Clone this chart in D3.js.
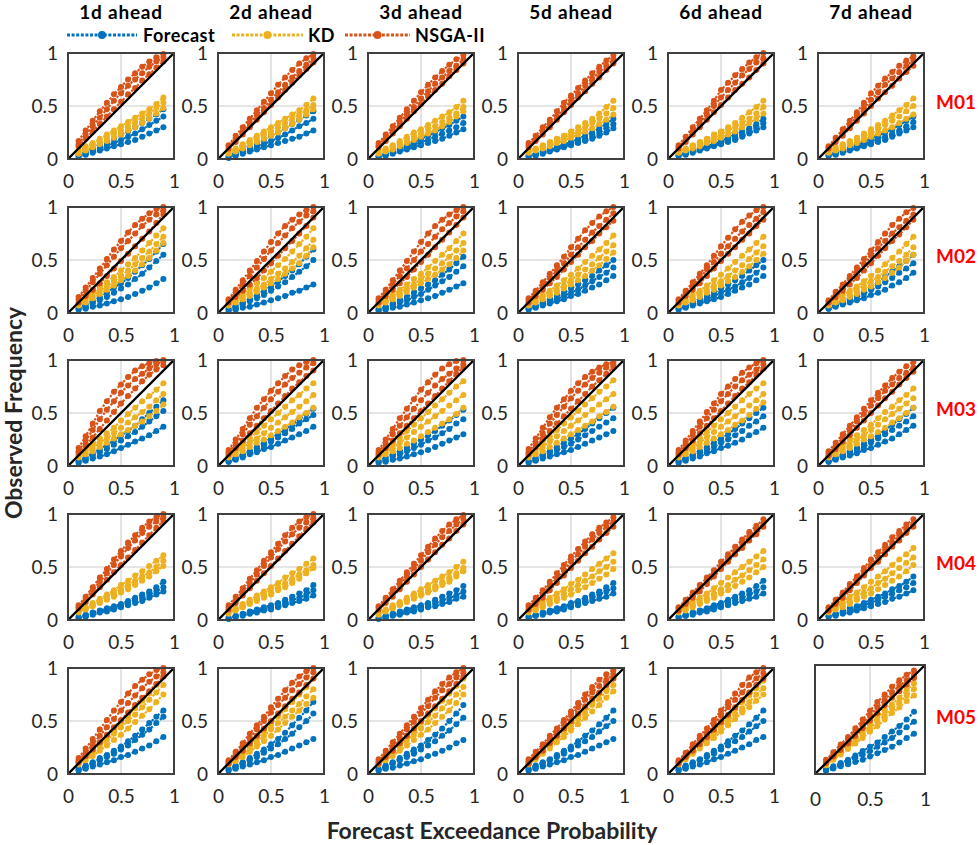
<!DOCTYPE html>
<html>
<head>
<meta charset="utf-8">
<script src="https://cdn.jsdelivr.net/npm/d3@7"></script>
<style>
  body { margin: 0; background: #fff; }
  text { font-family: Lato, 'Open Sans', sans-serif; }
</style>
</head>
<body>
<svg id="chart" width="978" height="845"></svg>
<script>
// lead times (columns) and models (rows)
const leadTimes = ['1d ahead', '2d ahead', '3d ahead', '5d ahead', '6d ahead', '7d ahead'];
const models = ['M01', 'M02', 'M03', 'M04', 'M05'];
const seriesNames = ['Forecast', 'KD', 'NSGA-II'];
const tickValues = [0, 0.5, 1];

// forecast exceedance probability of each point
const probs = [0.1, 0.1667, 0.2333, 0.3, 0.3667, 0.4333, 0.5, 0.5667, 0.6333, 0.7, 0.7667, 0.8333, 0.9];

// observed frequency (%), per lead time: three curves each
const M01_forecast = [
  [[4,7,10,13,16,19,23,26,30,34,38,42,47],[3,5,8,10,13,15,18,21,24,28,32,36,40],[2,4,6,8,10,12,14,16,18,21,24,27,30]],
  [[3,6,9,12,15,18,22,25,29,33,37,41,45],[2,4,7,9,12,14,17,20,23,27,31,34,38],[1,3,5,7,9,11,13,15,17,19,21,24,27]],
  [[3,5,8,10,13,16,19,22,25,29,32,36,40],[2,4,6,9,11,13,16,18,21,24,27,30,34],[2,3,5,7,9,11,13,15,17,19,22,25,28]],
  [[3,5,7,9,11,14,16,19,22,25,29,33,38],[3,4,6,8,10,12,14,16,19,22,25,29,33],[2,3,5,7,9,11,13,15,17,19,22,25,29]],
  [[4,6,8,10,12,14,17,20,23,26,29,33,38],[3,5,7,9,11,13,15,18,20,23,26,30,34],[3,4,6,8,10,12,14,16,18,21,24,27,30]],
  [[4,6,8,11,13,16,19,22,25,28,32,36,40],[3,5,7,9,11,14,16,19,21,24,27,31,35],[3,4,6,8,10,12,14,16,18,21,24,27,30]]
];
const M01_kd = [
  [[8,12,15,19,23,27,31,35,39,43,47,52,58],[7,10,13,16,20,24,27,31,35,39,43,48,53],[5,8,11,14,17,20,23,27,30,34,38,43,48]],
  [[7,10,14,18,22,26,30,34,38,42,46,51,57],[6,9,12,16,19,23,26,30,34,38,42,46,51],[5,7,10,13,16,19,22,25,29,33,37,42,47]],
  [[7,10,13,17,21,25,28,32,36,40,44,49,55],[6,8,11,14,18,21,24,28,31,35,39,43,49],[5,7,9,12,15,18,21,24,27,31,35,40,45]],
  [[8,10,13,16,19,22,26,30,34,38,43,49,55],[7,9,12,14,17,20,23,26,30,34,38,43,48],[6,8,10,12,15,17,20,23,26,29,33,37,42]],
  [[8,10,13,16,19,23,26,30,34,39,44,49,55],[7,9,12,14,17,20,23,27,30,34,38,43,49],[6,8,10,12,15,17,20,23,26,30,34,38,43]],
  [[8,11,14,17,20,24,28,32,36,41,46,51,57],[7,9,12,15,18,21,24,28,32,36,40,45,50],[6,8,10,13,15,18,21,24,27,30,34,38,42]]
];
const M01_nsga = [
  [[17,27,36,45,53,61,68,75,81,87,92,96,99],[14,23,31,39,47,55,62,69,75,81,87,92,96],[12,19,26,33,40,47,54,61,67,74,80,86,92]],
  [[13,22,30,38,46,54,62,70,77,84,90,95,99],[12,19,26,34,41,48,56,63,70,77,83,89,95],[10,16,23,30,37,44,51,58,65,72,79,85,91]],
  [[15,23,31,39,47,55,63,70,77,83,89,94,98],[13,20,27,35,42,49,57,64,71,77,83,88,94],[11,17,24,31,38,45,52,59,65,71,78,84,90]],
  [[15,22,30,37,45,53,60,67,74,81,87,93,98],[13,19,26,33,40,48,55,62,69,76,82,88,94],[11,17,23,30,37,44,51,58,64,71,77,84,90]],
  [[13,21,30,38,46,55,65,72,79,85,91,96,100],[11,18,26,34,42,50,58,65,72,79,85,91,95],[10,16,23,30,37,44,51,58,65,71,77,84,90]],
  [[12,20,28,36,44,53,62,69,76,82,88,93,97],[11,18,25,32,40,48,56,63,70,76,82,88,93],[10,16,22,29,36,43,50,57,63,69,76,82,88]]
];

const M02_forecast = [
  [[5,8,11,15,19,24,28,33,39,45,51,58,65],[4,6,9,12,15,19,23,27,32,37,43,49,55],[3,4,6,7,9,11,13,15,18,21,24,28,32]],
  [[4,7,10,13,17,21,25,30,35,40,46,53,60],[3,5,8,11,14,17,21,25,29,34,39,44,50],[2,3,5,6,8,10,12,14,16,19,21,24,27]],
  [[4,6,9,12,15,19,23,27,31,36,41,47,53],[3,5,7,10,12,15,18,22,26,30,34,39,44],[2,3,5,6,8,10,12,14,16,19,22,25,28]],
  [[5,7,10,13,16,19,23,27,31,35,40,45,50],[4,6,8,11,13,16,19,22,26,30,34,38,43],[3,5,7,9,11,13,16,18,21,24,27,31,35]],
  [[5,7,10,13,16,19,23,27,31,35,40,45,50],[4,6,8,11,13,16,19,22,25,29,33,38,43],[3,5,7,9,11,13,15,18,21,24,27,31,35]],
  [[5,8,11,14,17,21,25,29,34,39,44,49,55],[4,7,9,12,15,18,22,25,29,33,38,42,47],[4,6,8,10,12,14,17,19,22,26,29,33,38]]
];
const M02_kd = [
  [[9,14,19,24,29,34,40,46,52,59,66,73,80],[8,12,16,21,25,30,35,40,46,52,58,65,72],[7,10,14,18,22,26,31,35,40,46,52,59,66]],
  [[9,13,18,23,28,33,39,45,51,58,65,72,80],[8,11,15,19,23,27,32,37,42,48,54,61,69],[7,10,13,16,20,24,28,32,37,42,47,54,62]],
  [[9,13,17,22,27,32,37,43,49,55,61,68,75],[8,11,15,19,23,27,32,37,42,47,53,59,66],[7,10,13,16,20,24,28,32,36,41,46,52,59]],
  [[9,13,17,21,26,31,36,42,48,54,60,66,73],[8,11,15,18,22,26,31,36,41,46,52,58,64],[7,10,13,16,19,23,27,31,35,40,45,51,57]],
  [[9,13,17,21,26,31,36,42,48,54,60,66,72],[8,11,14,18,22,26,30,35,40,45,51,57,63],[7,10,12,15,19,22,26,30,34,39,44,50,56]],
  [[9,13,17,21,25,30,35,40,46,52,58,65,72],[8,11,14,18,22,26,30,34,39,44,49,55,62],[7,10,12,15,18,22,25,29,33,38,43,49,55]]
];
const M02_nsga = [
  [[15,24,33,42,51,60,68,76,83,89,94,98,100],[13,21,29,37,45,53,61,68,75,82,88,93,97],[10,16,22,28,35,42,49,56,63,70,77,85,93]],
  [[13,22,31,40,49,58,67,75,82,88,93,97,100],[12,19,27,35,43,51,59,66,73,80,86,92,96],[10,15,21,27,33,40,47,54,61,68,75,82,90]],
  [[14,22,31,40,49,58,67,75,82,88,93,97,100],[12,19,27,35,42,50,58,65,72,79,85,91,96],[10,16,22,28,34,41,48,55,62,69,76,83,90]],
  [[14,21,29,37,45,53,62,70,78,85,91,96,100],[12,19,26,33,40,47,55,62,69,76,82,88,94],[10,16,22,28,34,41,48,55,62,68,75,81,87]],
  [[13,21,29,37,45,54,63,71,79,86,92,97,100],[12,19,26,33,41,48,56,63,70,77,83,89,95],[10,16,22,28,35,42,49,56,62,69,75,82,88]],
  [[12,20,27,35,43,51,59,67,75,83,89,95,99],[11,18,25,32,39,46,54,61,68,75,81,87,93],[10,15,21,27,33,40,47,54,61,68,74,81,88]]
];

const M03_forecast = [
  [[5,8,12,16,20,24,29,33,38,44,50,56,62],[4,7,10,13,16,20,24,28,32,37,42,47,52],[3,5,7,9,11,14,17,20,23,26,29,33,37]],
  [[5,8,11,14,18,22,26,30,34,39,44,49,54],[4,7,10,13,16,19,23,27,31,35,40,44,48],[4,6,8,11,13,16,18,21,24,27,30,33,37]],
  [[5,8,11,14,17,21,25,29,33,38,43,48,53],[4,6,9,11,14,17,20,24,27,31,35,40,44],[3,4,6,7,9,11,13,15,18,21,24,27,30]],
  [[5,8,11,14,18,22,26,30,35,40,45,50,55],[4,6,9,12,15,18,21,25,29,33,37,41,45],[3,5,7,9,11,13,15,18,21,24,27,30,33]],
  [[5,8,11,14,18,22,26,30,35,40,45,50,55],[4,7,9,12,15,18,22,25,29,33,38,42,47],[3,5,7,9,12,14,17,19,22,25,29,32,36]],
  [[5,8,11,14,17,21,25,29,34,39,44,49,55],[4,7,9,12,15,18,22,26,30,34,38,42,47],[4,6,8,10,12,15,17,20,23,26,30,34,38]]
];
const M03_kd = [
  [[10,15,20,26,31,36,43,49,55,61,66,72,78],[9,13,17,22,26,31,36,41,46,51,56,62,68],[8,11,14,18,22,26,30,34,38,42,47,52,58]],
  [[10,15,20,26,32,38,44,50,56,62,67,73,78],[9,13,17,22,26,31,36,41,46,51,56,61,67],[8,11,14,18,22,25,29,33,37,41,46,50,55]],
  [[10,15,21,27,33,39,45,51,57,63,69,75,80],[9,13,17,22,27,32,37,42,47,52,57,62,67],[8,11,14,17,21,24,28,32,36,40,44,49,55]],
  [[11,16,22,28,34,40,46,52,58,64,70,75,81],[9,13,18,23,28,33,38,43,48,53,58,63,68],[8,11,14,18,22,26,30,34,38,42,47,51,56]],
  [[10,15,20,26,32,38,44,50,56,62,68,73,78],[9,13,17,22,27,32,37,42,47,52,57,62,68],[8,11,14,18,22,26,30,34,39,43,48,54,60]],
  [[10,14,19,24,29,34,39,45,51,56,62,67,73],[9,12,16,20,25,29,34,39,44,49,54,59,64],[8,11,14,17,21,25,28,32,36,41,45,50,55]]
];
const M03_nsga = [
  [[17,28,40,52,61,70,77,84,90,94,97,99,100],[14,24,34,44,53,61,69,76,82,87,92,96,99],[12,19,27,35,43,51,59,66,73,80,86,91,95]],
  [[15,25,35,45,55,63,71,78,85,91,95,98,100],[13,21,30,39,47,55,63,70,77,83,88,93,97],[11,17,24,31,38,45,52,59,66,73,79,85,90]],
  [[15,25,35,45,54,63,72,79,86,92,96,99,100],[13,21,30,38,46,54,62,69,76,82,87,92,96],[11,17,24,31,38,45,52,59,66,73,80,87,93]],
  [[16,26,36,46,55,63,71,78,84,89,93,96,98],[13,22,31,40,48,56,64,71,77,83,88,93,96],[11,18,26,33,40,47,54,61,68,75,81,87,93]],
  [[15,24,33,42,51,59,68,75,82,88,93,97,100],[13,21,29,37,45,53,61,68,75,81,86,91,96],[11,17,24,31,38,45,52,59,66,73,79,86,92]],
  [[14,22,30,38,46,54,62,69,76,83,89,94,98],[12,19,27,34,42,49,57,64,71,77,83,88,93],[10,16,23,29,36,43,50,57,64,70,77,83,89]]
];

const M04_forecast = [
  [[3,5,7,9,11,13,15,18,21,24,27,31,36],[2,4,6,8,10,12,14,16,19,21,24,27,31],[2,3,5,7,8,10,12,14,16,18,21,24,27]],
  [[2,4,6,8,10,12,14,16,19,22,25,28,33],[2,3,5,7,9,10,12,14,16,19,21,24,28],[1,3,4,6,7,9,10,12,14,16,18,20,23]],
  [[2,4,6,8,10,12,14,16,19,22,25,28,32],[2,3,5,6,8,10,12,14,16,18,21,23,27],[1,2,4,5,7,8,10,12,13,15,17,20,22]],
  [[3,5,7,9,11,13,16,18,21,24,27,31,35],[3,4,6,8,10,12,14,16,18,21,24,27,30],[2,4,5,7,8,10,12,14,16,18,20,22,25]],
  [[3,5,7,9,11,14,16,19,22,25,28,32,37],[3,4,6,8,10,12,14,16,19,21,24,27,31],[2,4,5,7,8,10,12,14,16,18,20,22,25]],
  [[4,6,8,11,13,16,19,22,25,29,32,36,41],[3,5,7,9,11,14,16,19,22,25,28,31,35],[3,4,6,7,9,11,13,15,17,20,22,25,28]]
];
const M04_kd = [
  [[9,12,16,20,24,28,33,37,42,46,51,56,61],[8,11,14,18,22,25,29,33,37,41,45,50,56],[7,10,13,16,19,22,26,29,33,37,41,46,51]],
  [[8,11,15,19,23,27,31,35,40,44,48,53,58],[7,10,13,17,20,24,28,31,35,39,43,47,52],[6,9,12,15,18,21,24,28,31,35,39,44,49]],
  [[7,10,14,17,21,25,29,33,37,41,45,50,55],[6,9,12,15,19,22,25,29,32,36,40,44,49],[5,8,11,14,17,20,23,26,29,33,36,41,46]],
  [[9,13,17,21,25,29,34,38,43,48,53,58,63],[8,11,14,18,21,25,29,33,37,41,46,50,55],[7,9,12,15,18,21,24,28,31,35,39,43,48]],
  [[9,13,17,21,25,30,35,40,45,50,55,60,65],[8,11,14,18,21,25,29,33,38,42,47,52,57],[7,9,12,15,18,21,25,28,32,36,40,45,50]],
  [[9,13,17,22,26,31,36,41,46,52,57,62,68],[8,11,15,18,22,26,30,35,39,44,49,54,59],[7,10,12,15,19,22,25,29,33,37,41,46,52]]
];
const M04_nsga = [
  [[14,22,31,40,48,57,65,73,80,87,93,97,100],[12,20,28,36,44,52,60,68,75,82,88,93,97],[11,17,24,31,38,45,52,59,66,73,80,87,93]],
  [[14,22,30,39,47,56,64,72,80,87,93,97,100],[12,19,27,35,43,51,59,67,74,81,87,92,96],[10,16,23,30,37,44,51,58,65,72,79,86,92]],
  [[13,21,29,37,45,53,61,69,77,84,90,95,99],[12,19,26,34,41,49,56,64,71,78,84,90,95],[10,16,22,29,36,43,50,57,64,71,77,84,90]],
  [[14,21,28,36,44,52,60,67,74,81,87,92,97],[12,18,25,32,40,47,55,62,69,76,82,88,93],[10,15,21,28,35,42,49,56,63,69,76,82,88]],
  [[12,19,26,33,40,47,55,62,69,76,83,89,95],[11,17,23,30,37,44,51,58,65,72,79,85,91],[9,15,21,27,34,41,48,55,62,68,75,81,88]],
  [[12,19,26,34,41,49,57,64,71,78,84,90,95],[11,17,24,31,38,45,52,59,66,73,80,86,91],[9,15,21,28,35,42,49,55,62,69,75,82,88]]
];

const M05_forecast = [
  [[5,8,11,15,18,22,26,31,36,42,48,54,60],[4,7,10,13,16,19,23,27,32,37,42,48,54],[3,5,7,9,11,13,16,18,21,24,27,31,35]],
  [[5,8,11,15,19,23,28,33,39,46,53,60,68],[4,7,10,13,16,20,24,28,33,38,44,50,57],[3,5,7,9,11,13,16,18,21,24,27,30,33]],
  [[5,8,11,15,19,23,27,32,37,43,50,57,65],[4,7,10,13,16,19,23,27,31,36,41,47,53],[3,5,6,8,10,12,14,17,19,22,25,29,32]],
  [[5,8,11,14,18,22,26,31,36,41,47,53,60],[4,7,10,13,16,19,23,27,31,35,40,45,50],[3,5,7,9,11,13,16,18,21,24,27,30,33]],
  [[5,8,11,14,18,22,26,31,36,41,47,53,60],[4,7,10,13,16,19,23,27,31,35,40,45,50],[3,5,7,9,11,14,16,19,22,25,28,32,35]],
  [[4,7,10,13,17,21,25,29,34,39,44,50,57],[4,6,9,12,15,18,21,25,29,33,38,43,48],[3,5,7,9,11,13,16,19,22,25,29,33,37]]
];
const M05_kd = [
  [[11,17,23,29,35,41,48,55,62,69,76,84,92],[10,15,20,26,32,38,44,50,56,63,70,77,84],[9,13,17,22,27,32,37,43,49,55,61,68,75]],
  [[11,16,22,28,34,40,47,54,61,68,75,82,90],[10,14,19,24,30,36,42,48,54,60,66,73,80],[9,12,16,21,26,31,36,42,48,54,60,66,72]],
  [[11,17,23,29,35,41,48,55,62,69,76,83,90],[10,15,20,26,32,37,43,49,55,62,68,75,82],[9,13,17,22,27,32,37,42,48,54,60,67,75]],
  [[11,17,23,29,35,41,48,55,62,69,76,83,90],[10,15,21,27,33,39,45,52,58,65,71,78,84],[9,14,19,24,30,35,41,47,53,59,65,72,78]],
  [[11,16,22,28,34,40,47,54,61,68,74,81,88],[10,15,20,26,32,37,43,50,56,62,68,75,81],[9,14,19,24,29,34,40,46,52,58,63,69,75]],
  [[10,15,21,27,33,39,45,52,58,64,70,77,83],[9,14,19,25,30,36,42,48,54,60,66,72,78],[8,13,18,23,28,33,39,44,50,56,61,67,72]]
];
const M05_nsga = [
  [[15,24,33,42,51,60,68,76,83,89,94,98,100],[13,20,28,36,44,52,60,67,74,81,87,92,96],[11,17,23,30,37,44,51,58,65,72,78,85,92]],
  [[13,21,29,38,46,54,63,71,79,86,92,97,100],[12,19,26,34,42,50,58,65,72,79,85,91,96],[10,16,22,29,36,43,50,57,64,71,77,84,90]],
  [[14,22,30,38,46,54,62,70,78,85,91,96,100],[12,19,26,34,42,49,57,64,72,79,85,91,96],[10,16,22,29,36,43,50,57,64,71,78,85,92]],
  [[14,21,28,36,43,51,59,67,75,82,89,94,98],[12,19,26,33,40,48,55,63,70,77,83,89,94],[10,16,22,29,36,43,50,57,64,71,77,84,90]],
  [[13,20,28,36,43,51,60,68,76,84,91,96,100],[12,18,25,32,39,47,55,63,70,77,84,90,95],[10,16,22,28,35,42,49,56,63,70,77,84,90]],
  [[13,20,27,34,42,50,58,66,73,80,86,91,95],[12,18,25,32,39,46,54,61,68,75,81,86,91],[10,16,22,28,35,42,49,56,63,70,76,82,88]]
];

const observed = {
  M01: [M01_forecast, M01_kd, M01_nsga],
  M02: [M02_forecast, M02_kd, M02_nsga],
  M03: [M03_forecast, M03_kd, M03_nsga],
  M04: [M04_forecast, M04_kd, M04_nsga],
  M05: [M05_forecast, M05_kd, M05_nsga],
};

const colors = ['#0072BD', '#EDB120', '#D95319'];
const textColor = '#262626';

const colLeft = [68, 218, 368, 518, 668, 818];
const rowTop = [53, 207, 360, 514, 668];
const size = 106;

const svg = d3.select('#chart');

// column titles
svg.selectAll('.col-title')
  .data(leadTimes)
  .enter()
  .append('text')
  .attr('class', 'col-title')
  .attr('x', (d, i) => colLeft[i] + size / 2)
  .attr('y', 19)
  .attr('text-anchor', 'middle')
  .style('font-size', '19px')
  .style('font-weight', 'bold')
  .style('letter-spacing', '0.8px')
  .attr('fill', '#000')
  .text(d => d);

// legend
const legendItems = [
  { x1: 67, x2: 137, tx: 143 },
  { x1: 232, x2: 303, tx: 308 },
  { x1: 345, x2: 410, tx: 415 },
];
const legend = svg.append('g').attr('class', 'legend');
legendItems.forEach((item, i) => {
  legend.append('line')
    .attr('x1', item.x1).attr('x2', item.x2)
    .attr('y1', 35).attr('y2', 35)
    .attr('stroke', colors[i])
    .attr('stroke-width', 3)
    .attr('stroke-dasharray', '3,1.6');
  legend.append('circle')
    .attr('cx', (item.x1 + item.x2) / 2)
    .attr('cy', 35)
    .attr('r', 4)
    .attr('fill', colors[i]);
  legend.append('text')
    .attr('x', item.tx)
    .attr('y', 42)
    .style('font-size', '18px')
    .style('font-weight', 'bold')
    .style('letter-spacing', '0.5px')
    .attr('fill', '#000')
    .text(seriesNames[i]);
});

models.forEach((model, r) => {
  leadTimes.forEach((lead, c) => {
    const last = r === models.length - 1 && c === leadTimes.length - 1;
    const left = last ? 815 : colLeft[c];
    const top = last ? 665 : rowTop[r];
    const w = last ? 110 : size;
    const h = last ? 109 : size;

    const x = d3.scaleLinear().domain([0, 1]).range([0, w]);
    const y = d3.scaleLinear().domain([0, 1]).range([h, 0]);

    const g = svg.append('g').attr('transform', `translate(${left},${top})`);

    // grid
    g.append('line')
      .attr('x1', x(0.5)).attr('x2', x(0.5))
      .attr('y1', 0).attr('y2', h)
      .attr('stroke', '#dcdcdc').attr('stroke-width', 1.6);
    if (!last) {
      g.append('line')
        .attr('x1', 0).attr('x2', w)
        .attr('y1', y(0.5)).attr('y2', y(0.5))
        .attr('stroke', '#dcdcdc').attr('stroke-width', 1.6);
    }

    const line = d3.line()
      .x((d, i) => x(probs[i]))
      .y(d => y(d / 100));

    observed[model].forEach((series, s) => {
      const curves = series[c];
      const sg = g.append('g').attr('class', `series-${s}`);
      sg.selectAll('path')
        .data(curves)
        .enter()
        .append('path')
        .attr('d', line)
        .attr('fill', 'none')
        .attr('stroke', colors[s])
        .attr('stroke-width', 2.2)
        .attr('stroke-dasharray', '2.4,1.6');
      curves.forEach(curve => {
        sg.selectAll(null)
          .data(curve)
          .enter()
          .append('circle')
          .attr('cx', (d, i) => x(probs[i]))
          .attr('cy', d => y(d / 100))
          .attr('r', 3)
          .attr('fill', colors[s]);
      });
    });

    // perfect reliability line
    g.append('path')
      .attr('d', d3.line().x(d => x(d)).y(d => y(d))([0, 1]))
      .attr('stroke', '#000')
      .attr('stroke-width', 2.4);

    // frame
    g.append('rect')
      .attr('width', w).attr('height', h)
      .attr('fill', 'none')
      .attr('stroke', '#404040')
      .attr('stroke-width', 2);

    const xAxis = d3.axisBottom(x)
      .tickValues(tickValues)
      .tickSize(0)
      .tickPadding(last ? 19 : 16)
      .tickFormat(String);
    const gx = g.append('g')
      .attr('transform', `translate(0,${h})`)
      .call(xAxis);
    gx.select('.domain').remove();
    gx.selectAll('text')
      .style('font-size', '19px')
      .attr('fill', textColor);

    if (!last) {
      const yAxis = d3.axisLeft(y)
        .tickValues(tickValues)
        .tickSize(0)
        .tickPadding(10)
        .tickFormat(String);
      const gy = g.append('g').call(yAxis);
      gy.select('.domain').remove();
      gy.selectAll('text')
        .style('font-size', '19px')
        .attr('fill', textColor);
    }
  });

  // model label
  svg.append('text')
    .attr('x', 936)
    .attr('y', rowTop[r] + size / 2 + 3)
    .style('font-size', '19px')
    .style('font-weight', 'bold')
    .attr('fill', '#ff0000')
    .text(model);
});

svg.selectAll('.tick text').attr('font-family', null);

// axis titles
svg.append('text')
  .attr('transform', 'translate(22,413) rotate(-90)')
  .attr('text-anchor', 'middle')
  .style('font-size', '23px')
  .style('font-weight', 'bold')
  .attr('fill', '#262626')
  .text('Observed Frequency');

svg.append('text')
  .attr('x', 492)
  .attr('y', 839)
  .attr('text-anchor', 'middle')
  .style('font-size', '23px')
  .style('font-weight', 'bold')
  .attr('fill', '#262626')
  .text('Forecast Exceedance Probability');
</script>
</body>
</html>
